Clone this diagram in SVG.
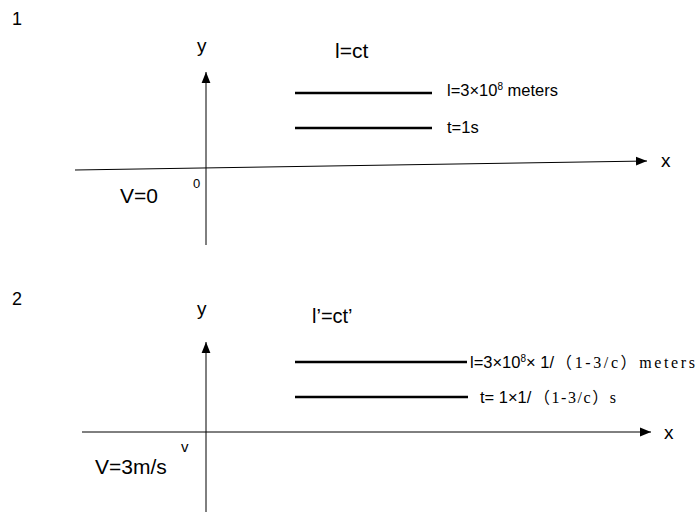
<svg xmlns="http://www.w3.org/2000/svg" width="696" height="514" viewBox="0 0 696 514">
<style>
.t{font-family:"Liberation Sans",Arial,sans-serif;fill:#000}
.s{font-family:"Liberation Serif","Noto Sans CJK SC",serif;fill:#000;font-size:16px}
.ax{stroke:#000;stroke-width:1;fill:none}
.bar{stroke:#000;stroke-width:2.5;fill:none}
</style>
<defs>
<marker id="ah" viewBox="0 0 10 10" refX="10" refY="5" markerWidth="11" markerHeight="11" markerUnits="userSpaceOnUse" orient="auto">
<path d="M0,1 L10,5 L0,9 Z" fill="#000"/>
</marker>
</defs>
<g id="frame1">
<text class="t" x="12" y="25" font-size="18">1</text>
</g>
<g id="frame2">
<text class="t" x="12" y="305" font-size="18">2</text>
</g>
<g id="connectors">
<line class="ax" x1="206" y1="245" x2="206" y2="72" marker-end="url(#ah)"/>
<line class="ax" x1="75" y1="170" x2="647" y2="161" marker-end="url(#ah)"/>
<line class="ax" x1="206" y1="512" x2="206" y2="342" marker-end="url(#ah)"/>
<line class="ax" x1="82" y1="432" x2="651" y2="432" marker-end="url(#ah)"/>
</g>
<g id="axes1-labels">
<text class="t" x="197" y="52" font-size="19">y</text>
<text class="t" x="661" y="167" font-size="19">x</text>
<text class="t" x="193" y="188" font-size="13">0</text>
<text class="t" x="120" y="203" font-size="21">V=0</text>
</g>
<g id="bar1a">
<line class="bar" x1="295" y1="93" x2="432" y2="93"/>
<text class="t" x="447" y="96" font-size="16.5">l=3×10<tspan font-size="10" dy="-6">8</tspan><tspan dy="6"> meters</tspan></text>
</g>
<g id="bar1b">
<line class="bar" x1="295" y1="128" x2="432" y2="128"/>
<text class="t" x="447" y="133" font-size="16.5">t=1s</text>
</g>
<g id="title1">
<text class="t" x="335" y="58" font-size="21">l=ct</text>
</g>
<g id="axes2-labels">
<text class="t" x="197" y="315" font-size="19">y</text>
<text class="t" x="664" y="439" font-size="19">x</text>
<text class="t" x="181" y="452" font-size="15">v</text>
<text class="t" x="95" y="474" font-size="21">V=3m/s</text>
</g>
<g id="title2">
<text class="t" x="312" y="323" font-size="20">l’=ct’</text>
</g>
<g id="bar2a">
<line class="bar" x1="295" y1="362" x2="467" y2="362"/>
<text class="t" x="470" y="368" font-size="16.5">l=3×10<tspan font-size="10" dy="-6">8</tspan><tspan dy="6">× 1/</tspan></text>
<text class="s" x="556" y="368" textLength="139" lengthAdjust="spacing">（1-3/c）meters</text>
</g>
<g id="bar2b">
<line class="bar" x1="295" y1="397" x2="468" y2="397"/>
<text class="t" x="480" y="403" font-size="16.5">t= 1×1/</text>
<text class="s" x="534" y="403" textLength="82" lengthAdjust="spacing">（1-3/c）s</text>
</g>
</svg>
